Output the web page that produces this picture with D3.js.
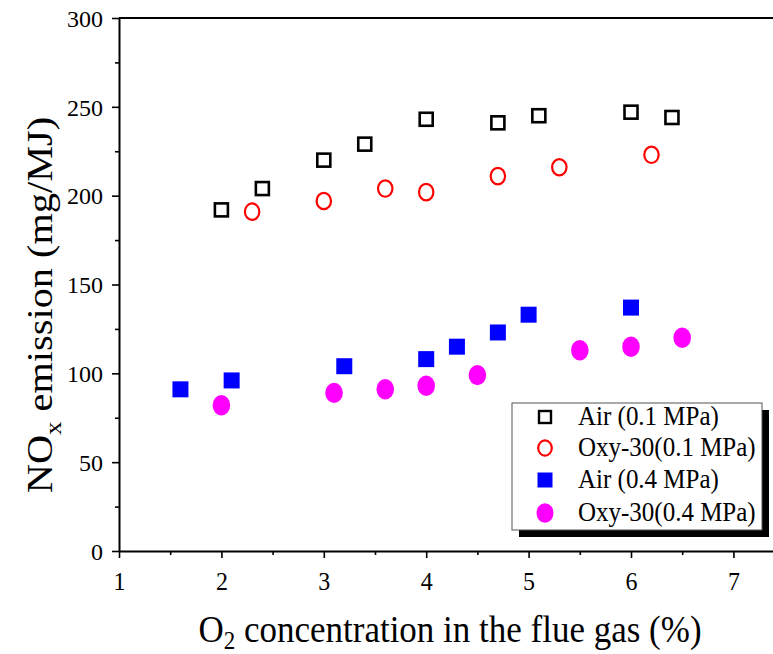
<!DOCTYPE html>
<html><head><meta charset="utf-8">
<script src="https://cdn.jsdelivr.net/npm/d3@7"></script>
<style>body{margin:0;background:#fff}svg{display:block}text{font-family:"Liberation Serif","Times New Roman",serif}</style>
</head><body>
<script>
const xTicks = [1,2,3,4,5,6,7];
const yTicks = [0,50,100,150,200,250,300];
const airLowX = [2.0,2.4,3.0,3.4,4.0,4.7,5.1,6.0,6.4];
const airLowY = [192,204,220,229,243,241,245,247,244];
const oxyLowX = [2.3,3.0,3.6,4.0,4.7,5.3,6.2];
const oxyLowY = [191,197,204,202,211,216,223];
const airHighX = [1.6,2.1,3.2,4.0,4.3,4.7,5.0,6.0];
const airHighY = [91,96,104,108,115,123,133,137];
const oxyHighX = [2.0,3.1,3.6,4.0,4.5,5.5,6.0,6.5];
const oxyHighY = [82,89,91,93,99,113,115,120];
const seriesNames = ["Air (0.1 MPa)","Oxy-30(0.1 MPa)","Air (0.4 MPa)","Oxy-30(0.4 MPa)"];

const W=773,H=654;
const svg=d3.select("body").append("svg").attr("width",W).attr("height",H);
const x=d3.scaleLinear().domain([1,7.5]).range([119,119+6.5*102.4]);
const y=d3.scaleLinear().domain([0,300]).range([551,18]);

// axes
const xMinor=d3.range(1.5,7.5,1);
const yMinor=d3.range(25,300,50);
const gx=svg.append("g").attr("transform","translate(0,551)");
gx.call(d3.axisBottom(x).tickValues(xTicks).tickSize(7).tickSizeOuter(0).tickFormat(d3.format("d")));
gx.append("g").attr("class","minor").call(d3.axisBottom(x).tickValues(xMinor).tickSize(4).tickFormat(""));
const gy=svg.append("g").attr("transform","translate(119,0)");
gy.call(d3.axisLeft(y).tickValues(yTicks).tickSize(7).tickSizeOuter(0).tickFormat(d3.format("d")));
gy.append("g").attr("class","minor").call(d3.axisLeft(y).tickValues(yMinor).tickSize(4).tickFormat(""));
svg.selectAll(".minor .domain").remove();
svg.selectAll(".domain").attr("stroke","#000").attr("stroke-width",2);
svg.selectAll(".tick line").attr("stroke","#000").attr("stroke-width",1.6);
gx.selectAll(".tick text").attr("font-size",24).attr("y",0).attr("dy",null)
  .attr("transform","translate(0,39) scale(1,1.05)").attr("fill","#000");
gy.selectAll(".tick text").attr("font-size",24).attr("x",-16).attr("dy","0.34em").attr("fill","#000");
// top frame line
svg.append("line").attr("x1",x(1)).attr("x2",W).attr("y1",y(300)).attr("y2",y(300)).attr("stroke","#000").attr("stroke-width",2);

// axis titles
svg.append("text").attr("transform","translate(52,305) scale(1,1.12) rotate(-90)").attr("text-anchor","middle").attr("font-size",36)
 .html('NO<tspan font-size="24" dy="9">x</tspan><tspan dy="-9"> emission (mg/MJ)</tspan>');
svg.append("text").attr("transform","translate(450,642) scale(1,1.1)").attr("text-anchor","middle").attr("font-size",35)
 .html('O<tspan font-size="23" dy="6">2</tspan><tspan dy="-6"> concentration in the flue gas (%)</tspan>');

// markers
function pts(xs,ys){return xs.map((v,i)=>({x:v,y:ys[i]}));}
svg.append("g").selectAll("rect").data(pts(airLowX,airLowY)).join("rect")
 .attr("x",d=>x(d.x)-6.5).attr("y",d=>y(d.y)-6.5).attr("width",13).attr("height",13)
 .attr("fill","none").attr("stroke","#000").attr("stroke-width",2.6);
svg.append("g").selectAll("ellipse").data(pts(oxyLowX,oxyLowY)).join("ellipse")
 .attr("cx",d=>x(d.x)).attr("cy",d=>y(d.y)).attr("rx",7.2).attr("ry",8.2)
 .attr("fill","none").attr("stroke","#f00").attr("stroke-width",2.2);
svg.append("g").selectAll("rect").data(pts(airHighX,airHighY)).join("rect")
 .attr("x",d=>x(d.x)-8).attr("y",d=>y(d.y)-8).attr("width",16).attr("height",16)
 .attr("fill","#00f");
svg.append("g").selectAll("ellipse").data(pts(oxyHighX,oxyHighY)).join("ellipse")
 .attr("cx",d=>x(d.x)).attr("cy",d=>y(d.y)).attr("rx",8.8).attr("ry",10.2)
 .attr("fill","#f0f");

// legend
const lx=512,ly=403,lw=250,lh=127;
svg.append("rect").attr("x",lx+7).attr("y",ly+7).attr("width",lw).attr("height",lh).attr("fill","#000");
svg.append("rect").attr("x",lx).attr("y",ly).attr("width",lw).attr("height",lh).attr("fill","#fff").attr("stroke","#555").attr("stroke-width",1);
const rowY=[417,448,480,513];
const mx=545;
const lg=svg.append("g");
lg.append("rect").attr("x",mx-6).attr("y",rowY[0]-6).attr("width",12).attr("height",12).attr("fill","none").attr("stroke","#000").attr("stroke-width",2.4);
lg.append("ellipse").attr("cx",mx).attr("cy",rowY[1]).attr("rx",6.8).attr("ry",7.6).attr("fill","none").attr("stroke","#f00").attr("stroke-width",2.2);
lg.append("rect").attr("x",mx-7.5).attr("y",rowY[2]-7.5).attr("width",15).attr("height",15).attr("fill","#00f");
lg.append("ellipse").attr("cx",mx).attr("cy",rowY[3]).attr("rx",8.5).attr("ry",9.8).attr("fill","#f0f");
lg.selectAll("text").data(seriesNames).join("text")
 .attr("transform",(d,i)=>`translate(578,${rowY[i]+8}) scale(1,1.06)`)
 .attr("font-size",25).text(d=>d);
</script>
</body></html>
